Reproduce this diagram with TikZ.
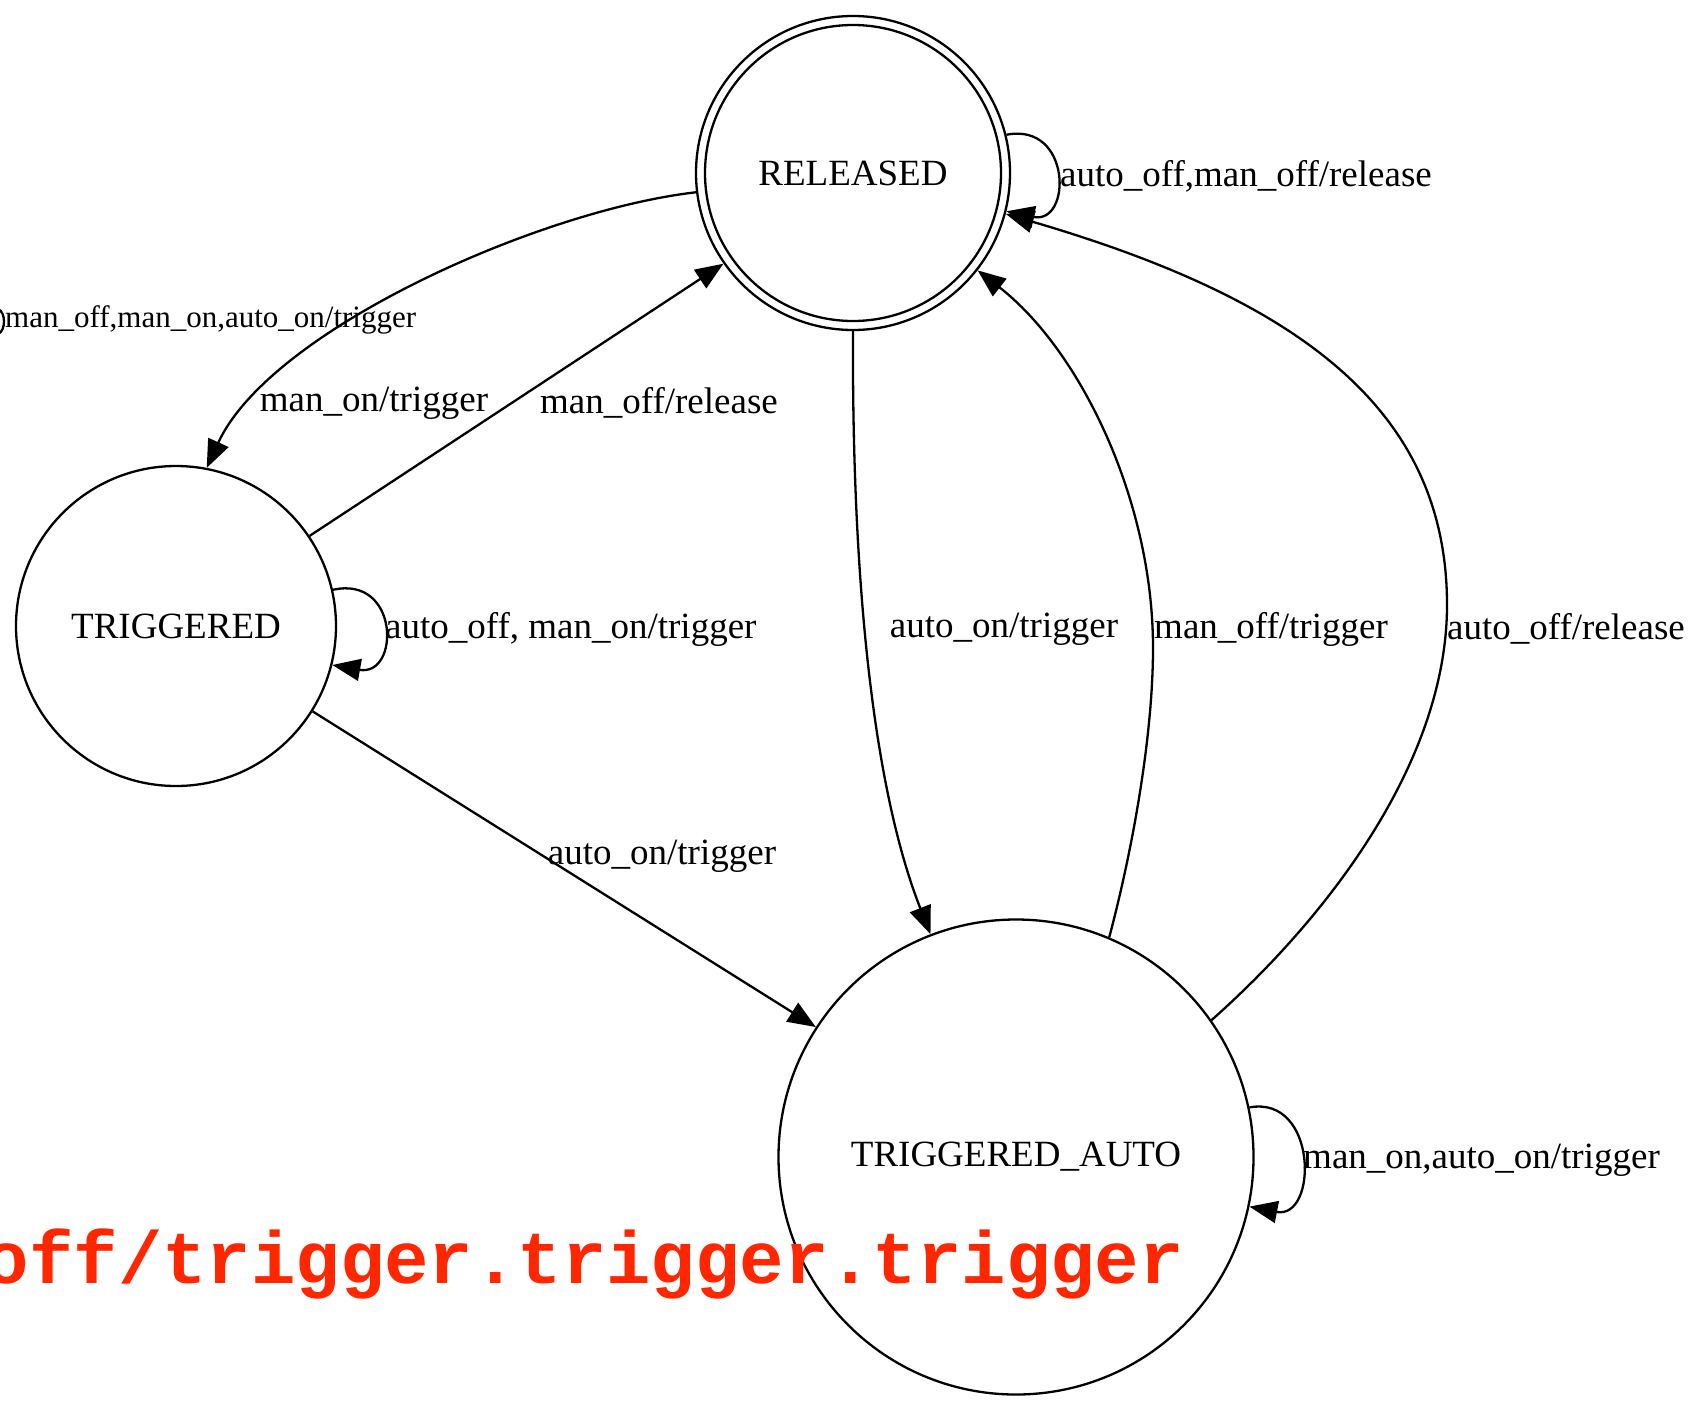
\documentclass[tikz,border=0pt]{standalone}
\usepackage{fontspec}
\setmainfont{Liberation Serif}
\newfontfamily\redmono{Liberation Mono}
\usetikzlibrary{arrows.meta}
\definecolor{redtxt}{RGB}{255,38,0}
\begin{document}
\begin{tikzpicture}[x=1pt,y=-1pt,
  state/.style={circle,draw,line width=2.3pt,inner sep=0pt,font=\fontsize{37}{44}\selectfont},
  edge/.style={line width=2.3pt,-{Triangle[length=28pt,width=22pt]}},
  lbl/.style={font=\fontsize{37}{44}\selectfont,inner sep=0pt},
  smalllbl/.style={font=\fontsize{31}{37}\selectfont,inner sep=0pt}]
\useasboundingbox (0,0) rectangle (1693,1400);
\clip (0,0) rectangle (1693,1400);
% states
\node[state,minimum size=314pt] (R) at (853,173) {RELEASED};
\draw[line width=2.3pt] (R.center) circle[radius=148];
\node[state,minimum size=320pt] (T) at (176,626) {TRIGGERED};
\node[state,minimum size=475pt] (A) at (1016,1157) {TRIGGERED\_AUTO};
% edges
\draw[edge] (R.-173) .. controls (540,210) and (270,330) .. (T.79.6);
\draw[edge] (T.34.3) -- (R.-145.6);
\draw[edge] (T.13.6) .. controls (400,575) and (400,677) .. (T.-14.3);
\draw[edge] (T.-32.8) -- (A.147.3);
\draw[edge] (R.-90) .. controls (852,520) and (864,765) .. (A.111.4);
\draw[edge] (A.67.9) .. controls (1135,840) and (1153,730) .. (1153,648)
  .. controls (1153,500) and (1080,350) .. (R.-38.6);
\draw[edge] (A.35.3) .. controls (1330,915) and (1447,760) .. (1447,605)
  .. controls (1447,410) and (1300,300) .. (R.-15.3);
\draw[edge] (R.14.3) .. controls (1072,122) and (1072,225) .. (R.-14.6);
\draw[edge] (A.12) .. controls (1318,1095) and (1318,1220) .. (A.-12);
% labels
\node[lbl] (l1) at (374,403) {man\_on/trigger};
\node[lbl] (l2) at (659,403) {man\_off/release};
\node[lbl,anchor=west] (l3) at (385,629) {auto\_off, man\_on/trigger};
\node[lbl] (l4) at (662,856) {auto\_on/trigger};
\node[lbl] (l5) at (1004,629) {auto\_on/trigger};
\node[lbl] (l6) at (1271,629) {man\_off/trigger};
\node[lbl] (l7) at (1566,629) {auto\_off/release};
\node[lbl,anchor=west] (l8) at (1060,176) {auto\_off,man\_off/release};
\node[lbl,anchor=west] (l9) at (1303,1160) {man\_on,auto\_on/trigger};
% fragment at the left edge
\coordinate (f1) at (-2,309);
\coordinate (f2) at (-2,334);
\draw[line width=2.3pt] (f1) .. controls (6,312) and (6,331) .. (f2);
\node[smalllbl,anchor=west] (l0) at (5,320) {man\_off,man\_on,auto\_on/trigger};
% red overlay text
\node[anchor=base east,inner sep=0pt,text=redtxt,font=\redmono\bfseries\fontsize{74}{80}\selectfont] (red) at (1184,1283) {off/trigger.trigger.trigger};
\end{tikzpicture}
\end{document}
